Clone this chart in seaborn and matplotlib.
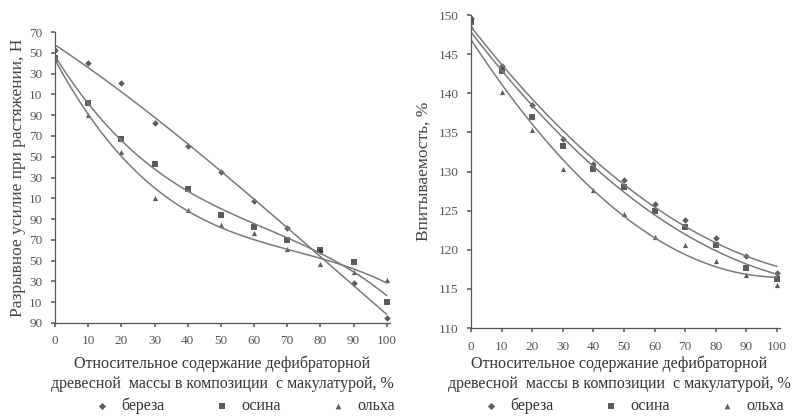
import seaborn as sns
import matplotlib.pyplot as plt
import pandas as pd

# DATA
x_pct = [0, 10, 20, 30, 40, 50, 60, 70, 80, 90, 100]
species = ['береза', 'осина', 'ольха']

# left panel: breaking force, N
force_bereza = [353, 340, 321, 282, 260, 235, 207, 181, 159, 128.5, 95]
force_osina = [345, 301.5, 267, 243, 218.5, 193.5, 182, 170, 160, 148.7, 110]
force_olkha = [344, 290, 255, 210.5, 199, 184, 176.5, 161.5, 147, 139, 131.7]
force_ticks = [90, 110, 130, 150, 170, 190, 210, 230, 250, 270, 290, 310, 330, 350, 370]
force_ticklabels = ['90', '10', '30', '50', '70', '90', '10', '30', '50', '70',
                    '90', '10', '30', '50', '70']

# right panel: absorbency, %
absorb_bereza = [149.6, 143.5, 138.5, 134.1, 131.0, 128.9, 125.9, 123.8, 121.5, 119.2, 117.0]
absorb_osina = [149.1, 142.9, 137.0, 133.2, 130.3, 128.0, 125.0, 122.9, 120.6, 117.7, 116.2]
absorb_olkha = [148.5, 140.2, 135.3, 130.3, 127.6, 124.6, 121.6, 120.6, 118.6, 116.8, 115.5]
absorb_ticks = [110, 115, 120, 125, 130, 135, 140, 145, 150]

force = pd.DataFrame({'x': x_pct * 3,
                      'y': force_bereza + force_osina + force_olkha,
                      'sp': [s for s in species for _ in x_pct]})
absorb = pd.DataFrame({'x': x_pct * 3,
                       'y': absorb_bereza + absorb_osina + absorb_olkha,
                       'sp': [s for s in species for _ in x_pct]})

custom_params = {'axes.edgecolor': '#555555', 'axes.linewidth': 0.9,
                 'xtick.color': '#666666', 'xtick.major.size': 3,
                 'ytick.color': '#666666', 'ytick.major.size': 3}
sns.set_theme(style='ticks', rc=custom_params)
plt.rcParams['font.family'] = ['Liberation Serif', 'DejaVu Serif']

fig = plt.figure(figsize=(8.02, 4.18), dpi=100)
ax1 = fig.add_axes([0.0686, 0.2273, 0.4177, 0.696])
ax2 = fig.add_axes([0.5873, 0.2153, 0.3853, 0.7488])

markers = {'береза': 'D', 'осина': 's', 'ольха': '^'}
msize = {'береза': 11, 'осина': 13, 'ольха': 14}

for sp in species:
    d = force[force.sp == sp]
    sns.regplot(data=d, x='x', y='y', ax=ax1, order=3, ci=None,
                marker=markers[sp], label=sp,
                scatter_kws={'s': msize[sp], 'color': '#333333', 'linewidths': 0},
                line_kws={'color': '#7a7a7a', 'lw': 1.1})
    d = absorb[absorb.sp == sp]
    sns.regplot(data=d, x='x', y='y', ax=ax2, order=2, ci=None,
                marker=markers[sp], label=sp,
                scatter_kws={'s': msize[sp], 'color': '#333333', 'linewidths': 0},
                line_kws={'color': '#7a7a7a', 'lw': 1.1})

xlabel = 'Относительное содержание дефибраторной\nдревесной  массы в композиции  с макулатурой, %'

for ax in (ax1, ax2):
    sns.despine(ax=ax)
    ax.set_xlim(0, 101)
    ax.set_xticks(x_pct)
    ax.tick_params(labelsize=9.5, labelcolor='#555555', pad=6)
    ax.set_xlabel(xlabel, fontsize=11.5, color='#333333', labelpad=6, linespacing=1.3)

ax2.xaxis.set_label_coords(0.48, -0.088)

ax1.set_ylim(90, 370)
ax1.set_yticks(force_ticks)
ax1.set_yticklabels(force_ticklabels)
ax1.set_ylabel('Разрывное усилие при растяжении, Н', fontsize=12.5, color='#444444', labelpad=2)

ax2.set_ylim(110, 150)
ax2.set_yticks(absorb_ticks)
ax2.set_ylabel('Впитываемость, %', fontsize=12.5, color='#444444', labelpad=5)

# LEGENDS UNDER EACH PANEL
for ax, cx in ((ax1, 0.30), (ax2, 0.785)):
    ax.legend(loc='center', bbox_to_anchor=(cx, 0.03), bbox_transform=fig.transFigure,
              ncol=3, frameon=False, fontsize=11.5, handletextpad=0.2,
              columnspacing=2.6, markerscale=1.1, labelcolor='#333333')

plt.savefig('out.png', dpi=100)
